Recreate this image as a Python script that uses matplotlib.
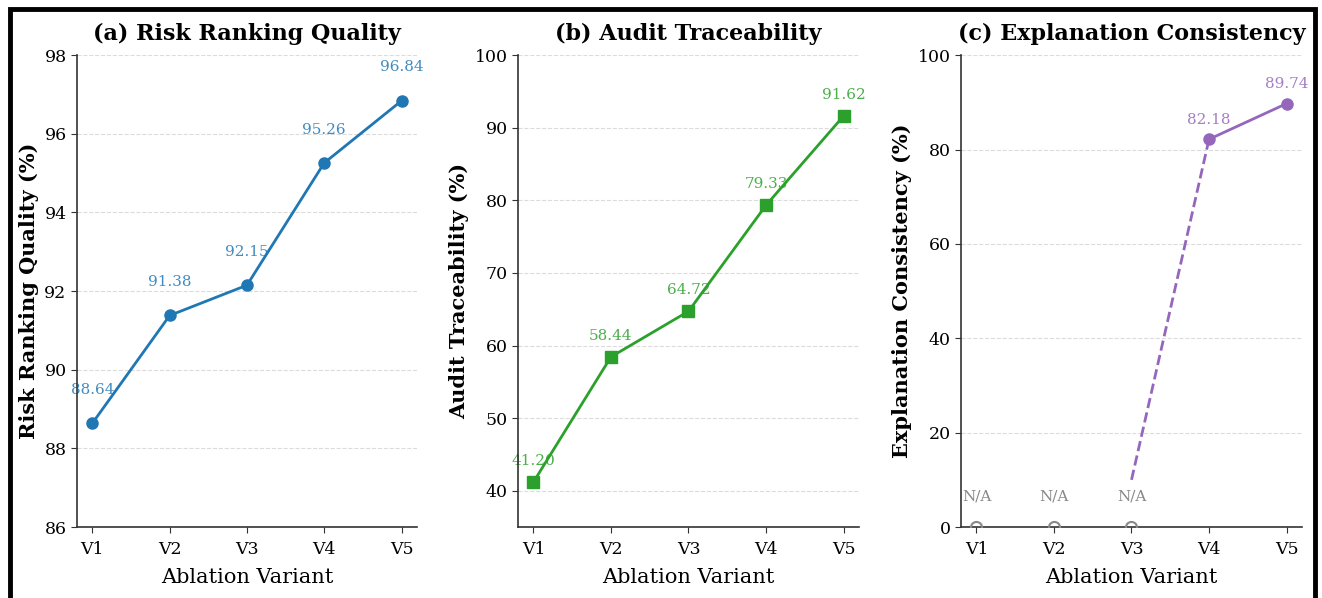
import matplotlib
matplotlib.use("Agg")
import matplotlib.pyplot as plt
from matplotlib.patches import Rectangle
import numpy as np

plt.rcParams['font.family'] = ['DejaVu Serif']

variants = ["V1", "V2", "V3", "V4", "V5"]
risk_quality = [88.64, 91.38, 92.15, 95.26, 96.84]
audit_trace = [41.20, 58.44, 64.72, 79.33, 91.62]
# explanation consistency is only available for V4 and V5
expl_idx = [3, 4]
expl_consistency = [82.18, 89.74]
na_idx = [0, 1, 2]
na_level = 0
na_text_level = 5
# dashed connector from V3 to the first real value
bridge_x = [2, 3]
bridge_y = [10, 82.18]

blue = "#1f77b4"
green = "#2ca02c"
purple = "#9467bd"
gray = "#888888"

fig = plt.figure(figsize=(13.22, 5.98), dpi=100)
ax_a = fig.add_axes([0.0582, 0.1187, 0.2572, 0.789])
ax_b = fig.add_axes([0.3918, 0.1187, 0.258, 0.789])
ax_c = fig.add_axes([0.7269, 0.1187, 0.258, 0.789])

x = np.arange(len(variants))


def style_axis(ax, ylabel, title, ylim, yticks):
    ax.set_ylim(*ylim)
    ax.set_yticks(yticks)
    ax.set_xticks(x)
    ax.set_xticklabels(variants)
    ax.set_xlim(-0.2, 4.2)
    ax.tick_params(labelsize=12.5, color="#333333", length=4)
    ax.tick_params(axis="x", pad=6)
    ax.set_xlabel("Ablation Variant", fontsize=15, labelpad=7)
    ax.set_ylabel(ylabel, fontsize=15, fontweight="bold")
    ax.set_title(title, fontsize=16, fontweight="bold", pad=11)
    ax.grid(axis="y", linestyle="--", color="#cccccc", alpha=0.7, linewidth=0.8)
    ax.set_axisbelow(True)
    for s in ["top", "right"]:
        ax.spines[s].set_visible(False)
    for s in ["left", "bottom"]:
        ax.spines[s].set_color("#333333")
        ax.spines[s].set_linewidth(1.2)


def label_points(ax, xs, ys, color, offset):
    for xi, yi in zip(xs, ys):
        ax.annotate(f"{yi:.2f}", (xi, yi), xytext=(0, offset), textcoords="offset points",
                    ha="center", va="bottom", fontsize=11, color=color, alpha=0.85, zorder=1)


# (a)
ax_a.plot(x, risk_quality, color=blue, marker="o", markersize=8, linewidth=2, zorder=3)
label_points(ax_a, x, risk_quality, blue, 19)
style_axis(ax_a, "Risk Ranking Quality (%)", "(a) Risk Ranking Quality", (86, 98), [86, 88, 90, 92, 94, 96, 98])

# (b)
ax_b.plot(x, audit_trace, color=green, marker="s", markersize=8, linewidth=2, zorder=3)
label_points(ax_b, x, audit_trace, green, 10)
style_axis(ax_b, "Audit Traceability (%)", "(b) Audit Traceability", (35, 100), [40, 50, 60, 70, 80, 90, 100])

# (c)
ax_c.plot(expl_idx, expl_consistency, color=purple, marker="o", markersize=8, linewidth=2, zorder=3)
ax_c.plot(bridge_x, bridge_y, color=purple, linestyle="--", linewidth=2, zorder=2)
label_points(ax_c, expl_idx, expl_consistency, purple, 9)
ax_c.plot(na_idx, [na_level] * len(na_idx), linestyle="none", marker="o", markersize=8,
          markerfacecolor="none", markeredgecolor=gray, markeredgewidth=1.5, zorder=3)
for i in na_idx:
    ax_c.text(i, na_text_level, "N/A", ha="center", va="bottom", fontsize=11, color=gray)
style_axis(ax_c, "Explanation Consistency (%)", "(c) Explanation Consistency", (0, 100), [0, 20, 40, 60, 80, 100])

# black frame around the figure
frame = Rectangle((9.5 / 1322, -0.05), (1314.5 - 9.5) / 1322, 1 + 0.05 - 9.5 / 598,
                  transform=fig.transFigure, fill=False, edgecolor="black", linewidth=3.5)
fig.patches.append(frame)

fig.savefig("out.png", dpi=100)
